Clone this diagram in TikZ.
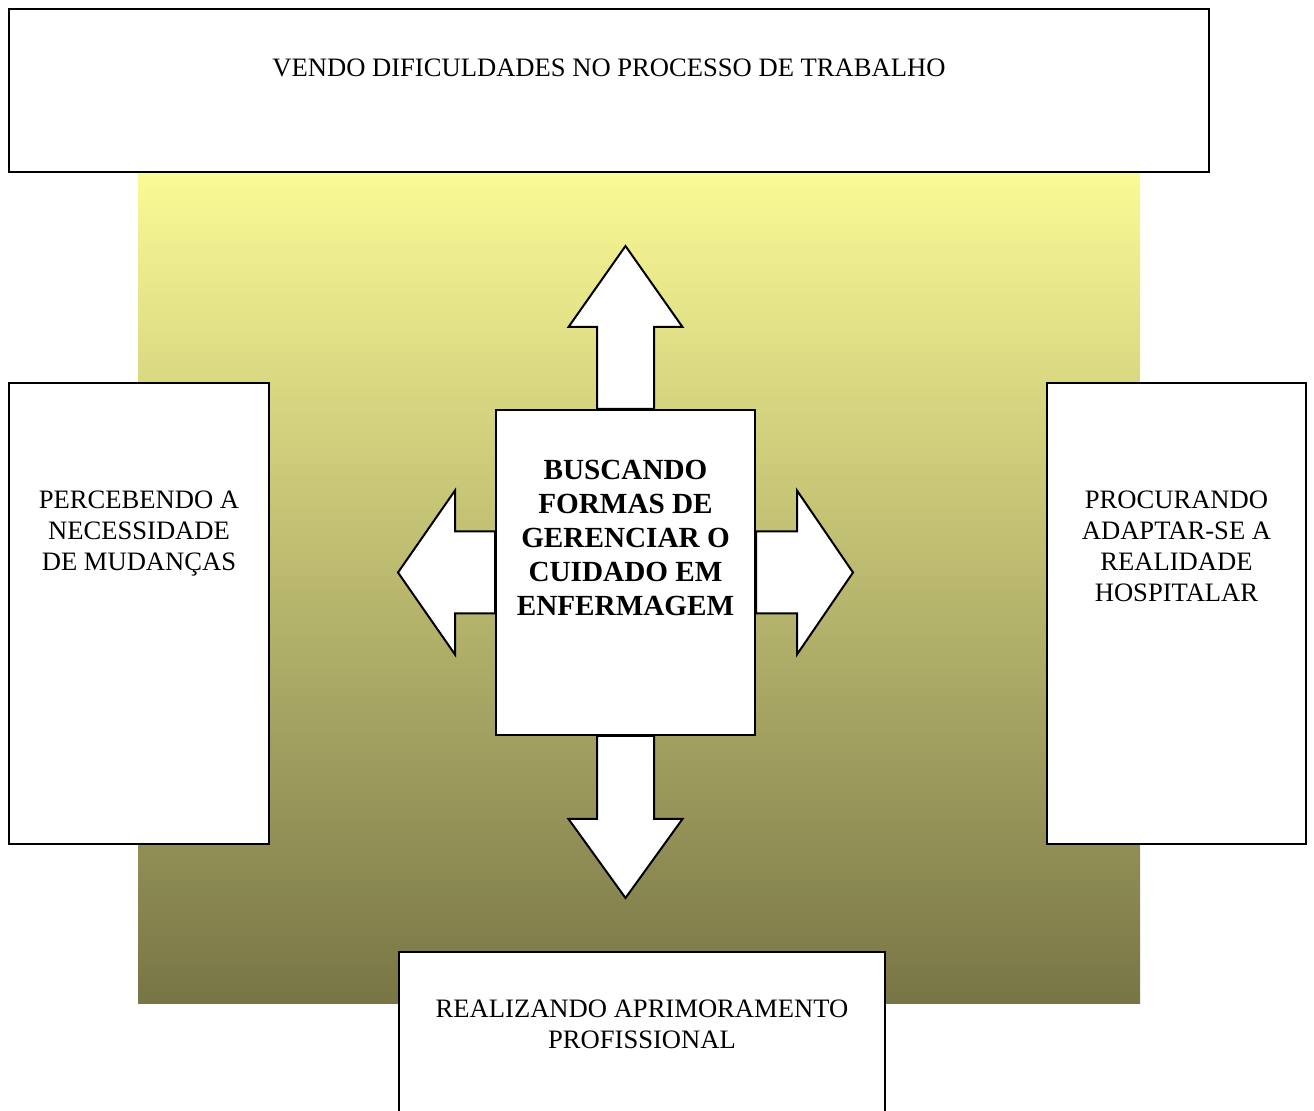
\documentclass[tikz,border=0pt]{standalone}
\usepackage{fontspec}
\setmainfont{Liberation Serif}
\usetikzlibrary{calc,shadows}
\definecolor{bgtop}{RGB}{250,250,150}
\definecolor{bgmid}{RGB}{212,208,130}
\definecolor{bgbot}{RGB}{120,117,70}
\pgfdeclarelayer{backdrop}
\pgfdeclarelayer{arrows}
\pgfsetlayers{backdrop,arrows,main}
\begin{document}
\begin{tikzpicture}[x=0.5pt,y=-0.5pt,
  box/.style={draw=black, line width=1pt, fill=white, rectangle, inner sep=0pt,
    general shadow={fill=black!35, shadow xshift=0.7pt, shadow yshift=-0.7pt}},
  boxtext/.style={inner sep=0pt, align=center, anchor=north,
    font=\fontsize{13.3}{15.65}\selectfont},
  hubtext/.style={inner sep=0pt, align=center, anchor=north,
    font=\fontsize{14.6}{17}\selectfont\bfseries},
  blockarrow/.style={draw=black, line width=1pt, fill=white, line join=miter}]
\useasboundingbox (0,0) rectangle (1314,1111);
\clip (0,0) rectangle (1314,1111);

% backdrop with vertical gradient
\begin{pgfonlayer}{backdrop}
  \fill[white] (0,0) rectangle (1314,1111);
  \shade[top color=bgtop, middle color=bgmid, bottom color=bgbot]
    (138,172) rectangle (1140,1004);
\end{pgfonlayer}

% boxes
\node[box, minimum width=600pt, minimum height=81.5pt] (top) at (609,90.5) {};
\node[box, minimum width=130pt, minimum height=230.5pt] (left) at (139,613.5) {};
\node[box, minimum width=129.5pt, minimum height=230.5pt] (right) at (1176.5,613.5) {};
\node[box, minimum width=243pt, minimum height=84pt] (bottom) at (642,1036) {};
\node[box, minimum width=129.5pt, minimum height=162.5pt] (hub) at (625.5,572.5) {};

% labels
\node[boxtext] (toptext) at ($(top.north)+(0,50)$)
  {VENDO DIFICULDADES NO PROCESSO DE TRABALHO};
\node[boxtext] (lefttext) at ($(left.north)+(0,108)$)
  {PERCEBENDO A\\NECESSIDADE\\DE MUDANÇAS};
\node[boxtext] (righttext) at ($(right.north)+(0,108)$)
  {PROCURANDO\\ADAPTAR-SE A\\REALIDADE\\HOSPITALAR};
\node[boxtext] (bottomtext) at ($(bottom.north)+(0,48)$)
  {REALIZANDO APRIMORAMENTO\\PROFISSIONAL};
\node[hubtext] (hubtext) at ($(hub.north)+(0,51)$)
  {BUSCANDO\\FORMAS DE\\GERENCIAR O\\CUIDADO EM\\ENFERMAGEM};

% block arrows leaving the central box
\begin{pgfonlayer}{arrows}
  \begin{scope}[shift={(hub.north)}]
    \draw[blockarrow] (-28.5,0) -- (-28.5,-82) -- (-57,-82) -- (0,-163)
      -- (57,-82) -- (28.5,-82) -- (28.5,0) -- cycle;
  \end{scope}
  \begin{scope}[shift={(hub.south)}]
    \draw[blockarrow] (-28.5,0) -- (-28.5,83) -- (-57,83) -- (0,162)
      -- (57,83) -- (28.5,83) -- (28.5,0) -- cycle;
  \end{scope}
  \begin{scope}[shift={(hub.west)}]
    \draw[blockarrow] (0,-41) -- (-40,-41) -- (-40,-82) -- (-97,0)
      -- (-40,82) -- (-40,41) -- (0,41) -- cycle;
  \end{scope}
  \begin{scope}[shift={(hub.east)}]
    \draw[blockarrow] (0,-41) -- (41,-41) -- (41,-82) -- (97,0)
      -- (41,82) -- (41,41) -- (0,41) -- cycle;
  \end{scope}
\end{pgfonlayer}
\end{tikzpicture}
\end{document}
